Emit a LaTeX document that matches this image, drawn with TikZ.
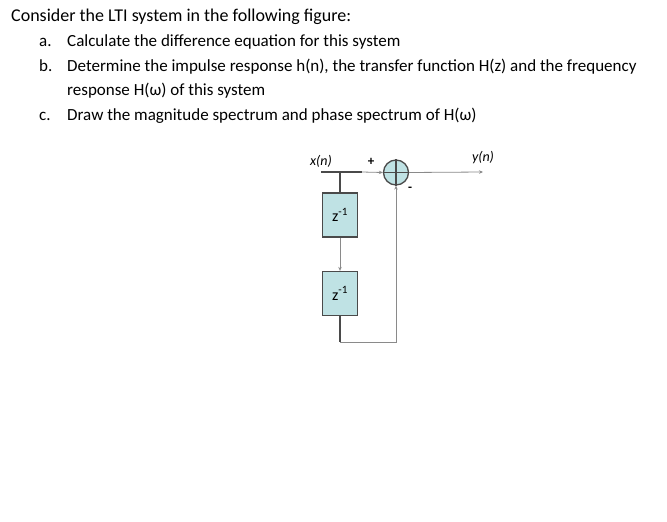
\documentclass[tikz,border=0pt]{standalone}
\usepackage{fontspec}
\setmainfont{Carlito}
\setsansfont{Carlito}
\usetikzlibrary{arrows.meta}
\definecolor{boxfill}{HTML}{BFE2E4}
\definecolor{linegray}{HTML}{8A8A8A}
\definecolor{darkline}{HTML}{4A4A4A}
\tikzset{
  qtext/.style={anchor=base west, inner sep=0pt, font=\fontsize{17}{20}\selectfont},
  delaybox/.style={draw=darkline, line width=1.3pt, fill=boxfill, minimum width=35pt, minimum height=44pt, inner sep=0pt, font=\fontsize{16}{18}\selectfont},
  adder/.style={circle, draw=darkline, line width=1.3pt, fill=boxfill, minimum size=25pt, inner sep=0pt},
  sig/.style={draw=linegray, line width=0.8pt},
  sigdark/.style={draw=darkline, line width=1.3pt},
  tip/.style={-{Stealth[length=4pt,width=3.5pt]}},
  lbl/.style={inner sep=0pt, font=\fontsize{14}{16}\selectfont\itshape}
}
\begin{document}
\begin{tikzpicture}[x=1pt,y=-1pt]
\useasboundingbox (0,0) rectangle (667,522);
\fill[white] (0,0) rectangle (667,522);
% text
\node[qtext, font=\fontsize{18}{21}\selectfont] (t0) at (11,21.7) {Consider the LTI system in the following figure:};
\node[qtext] (la) at (39,46.7) {a.};
\node[qtext] (ta) at (67,46.7) {Calculate the difference equation for this system};
\node[qtext] (lb) at (39,71) {b.};
\node[qtext] (tb) at (67,71) {Determine the impulse response h(n), the transfer function H(z) and the frequency};
\node[qtext] (tb2) at (67,95.3) {response H(ω) of this system};
\node[qtext] (lc) at (39,120) {c.};
\node[qtext] (tc) at (67,120) {Draw the magnitude spectrum and phase spectrum of H(ω)};
% diagram
\coordinate (xin) at (321,172);
\coordinate (tap) at (340,172);
\coordinate (mid) at (362,172);
\node[adder] (sum) at (396,172.5) {};
\draw[darkline, line width=1.3pt] (sum.north) -- (sum.south) (sum.west) -- (sum.east);
\coordinate (yout) at (483,172);
\node[delaybox] (d1) at (340,215) {z\textsuperscript{-1}};
\node[delaybox] (d2) at (340,293.5) {z\textsuperscript{-1}};
\coordinate (c1) at (340,342);
\coordinate (c2) at (396,342);
\draw[sigdark] (xin) -- (mid);
\draw[sig, tip] (mid) -- (sum.west);
\draw[sigdark] (tap) -- (d1.north);
\draw[sig, tip] (d1.south) -- (d2.north);
\draw[sigdark] (d2.south) -- (c1);
\draw[sig, tip] (c1) -- (c2) -- (sum.south);
\draw[sig, tip] (sum.east) -- (yout);
\node[lbl] (xl) at (321,161) {x(n)};
\node[lbl] (yl) at (483,158) {y(n)};
\node[inner sep=0pt, font=\fontsize{13}{15}\selectfont\bfseries] (plus) at (371,162) {+};
\node[inner sep=0pt, font=\fontsize{13}{15}\selectfont\bfseries] (minus) at (410,189) {-};
\end{tikzpicture}
\end{document}
